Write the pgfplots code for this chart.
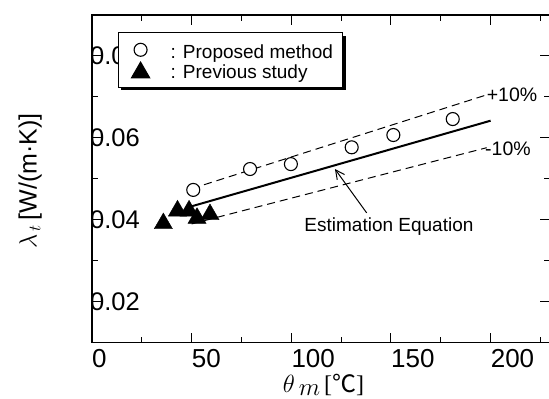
\documentclass[border=0pt]{standalone}
\usepackage{fontspec}
\setmainfont{Liberation Sans}
\newfontfamily\serif{Liberation Serif}
\newfontfamily\cjk{Noto Sans CJK SC}
\usepackage{pgfplots}
\pgfplotsset{compat=1.18}
\usetikzlibrary{arrows.meta,shadows}

\begin{document}
\begin{tikzpicture}
\begin{axis}[
  at={(92pt,56.3pt)}, anchor=south west,
  scale only axis, width=458.4pt, height=327.7pt,
  xmin=0, xmax=230, ymin=0.01, ymax=0.09,
  scaled y ticks=false, scaled x ticks=false,
  axis line style={line width=1.4pt},
  tick style={line width=1pt, black},
  tick align=inside, tick pos=both,
  major tick length=10pt, minor tick length=6pt,
  xtick={0,50,100,150,200},
  minor xtick={25,75,125,175,225},
  ytick={0.02,0.04,0.06,0.08},
  yticklabels={0.02,0.04,0.06,0.08},
  minor ytick={0.03,0.05,0.07},
  /pgf/number format/assume math mode=true,
  xticklabel style={anchor=north west, inner sep=0pt, yshift=-6pt, font=\fontsize{26}{30}\selectfont},
  yticklabel style={anchor=west, inner sep=0pt, xshift=-2pt, font=\fontsize{25.5}{30}\selectfont},
  xlabel={$\theta$\,\raisebox{-3pt}{$m$}\,{\serif[}{\cjk ℃}{\serif]}},
  xlabel style={at={(axis description cs:0.505,-0.0946)}, anchor=north, inner sep=0pt, font=\fontsize{24}{28}\selectfont},
  ylabel={$\lambda_{\,t}$\,[W/(m·K)]},
  ylabel style={at={(axis description cs:-0.109,0.494)}, anchor=south, rotate=0, inner sep=0pt, font=\fontsize{25}{30}\selectfont},
  legend cell align=left,
  legend style={at={(axis description cs:0.0567,0.948)}, anchor=north west,
    draw=black, line width=1pt, fill=white,
    font=\fontsize{19}{20}\selectfont,
    drop shadow={shadow xshift=3pt, shadow yshift=-3pt, fill=black, opacity=1},
    inner xsep=13pt, inner ysep=5pt, nodes={inner sep=2pt}, row sep=0pt},
]
\addplot[forget plot, line width=2pt] coordinates {(50,0.0433) (200,0.0642)};
\addplot[forget plot, line width=1pt, dash pattern=on 8pt off 5pt] coordinates {(50,0.0476) (198,0.0705)};
\addplot[forget plot, line width=1pt, dash pattern=on 8pt off 5pt] coordinates {(50,0.0390) (198,0.0576)};

\addplot[only marks, mark=*, mark size=6.5pt, mark options={fill=white, draw=black, line width=1.1pt}]
  coordinates {(50.8,0.0473) (79.3,0.0524) (99.8,0.0536) (130.3,0.0577) (151.2,0.0607) (181,0.0646)};
\addlegendentry{\rule{0pt}{19pt}\makebox[176pt][l]{\hspace{19pt}:\hspace{7pt}Proposed method}}

\addplot[only marks, mark=triangle*, mark size=10.5pt, mark options={fill=black, draw=black}]
  coordinates {(35.8,0.0391) (42.9,0.0422) (48.7,0.0422) (52.7,0.0404) (59.2,0.0413)};
\addlegendentry{\rule[-4pt]{0pt}{18pt}\makebox[176pt][l]{\hspace{19pt}:\hspace{7pt}Previous study}}

\node[anchor=base west, inner sep=0pt, font=\fontsize{19.5}{20}\selectfont] at (axis cs:198,0.0689) {+10\%};
\node[anchor=base west, inner sep=0pt, font=\fontsize{19.5}{20}\selectfont] at (axis cs:197.2,0.0557) {-10\%};
\node[anchor=base, inner sep=0pt, font=\fontsize{19}{20}\selectfont] at (axis cs:149,0.0371) {Estimation Equation};
\draw[line width=1pt, -{Straight Barb[length=9pt,width=9pt]}] (axis cs:137.8,0.0417) -- (axis cs:121.9,0.0524);
\end{axis}
\pgfresetboundingbox
\path[use as bounding box] (0,0) rectangle (549pt,399pt);
\end{tikzpicture}
\end{document}
